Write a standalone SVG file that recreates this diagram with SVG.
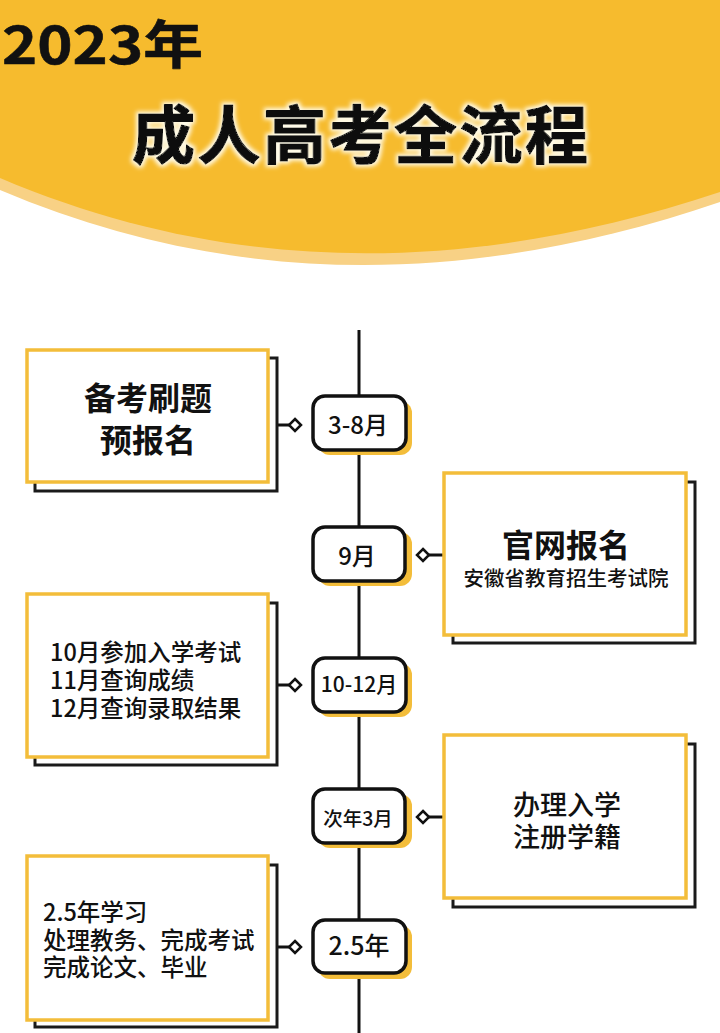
<svg xmlns="http://www.w3.org/2000/svg" width="720" height="1033" viewBox="0 0 720 1033">
<style>
.cjk{font-family:"Noto Sans CJK SC","Noto Sans",sans-serif;fill:#111;}
.box{fill:#fff;stroke:#F3BD3A;stroke-width:3.5;}
.shadow{fill:none;stroke:#1a1a1a;stroke-width:3;}
.pill{fill:#fff;stroke:#111;stroke-width:3.5;}
.pillsh{fill:#F3BD3A;}
.conn{stroke:#111;stroke-width:3;fill:none;}
.dia{fill:#fff;stroke:#111;stroke-width:2.5;}
.big{font-size:32px;font-weight:700;text-anchor:middle;}
.mid{font-size:23.5px;font-weight:500;}
.ptxt{font-weight:500;text-anchor:middle;}
</style>
<defs>
<filter id="glow" x="-10%" y="-40%" width="120%" height="180%">
<feMorphology in="SourceAlpha" operator="dilate" radius="1.5" result="d"/>
<feGaussianBlur in="d" stdDeviation="2.2" result="b"/>
<feFlood flood-color="#fffbe8" flood-opacity="1"/>
<feComposite in2="b" operator="in" result="w"/>
<feMerge><feMergeNode in="w"/><feMergeNode in="SourceGraphic"/></feMerge>
</filter>
</defs>
<rect width="720" height="1033" fill="#fff"/>
<g id="header">
<path d="M0,0 H720 V202 C480,284 240,292 0,190 Z" fill="#F8D185"/>
<path d="M0,0 H720 V192 C480,272 240,280 0,178 Z" fill="#F6BB2E"/>
<text class="cjk" x="2" y="64" font-size="52" font-weight="700" textLength="201" lengthAdjust="spacingAndGlyphs" stroke="#111" stroke-width="0.6" stroke-linejoin="round">2023年</text>
<text class="cjk" x="132" y="158" font-size="63" font-weight="700" textLength="456" lengthAdjust="spacing" stroke="#111" stroke-width="1.2" stroke-linejoin="round" filter="url(#glow)">成人高考全流程</text>
</g>
<g id="connectors">
<line class="conn" x1="359" y1="330" x2="359" y2="1033"/>
<line class="conn" x1="277" y1="425" x2="290" y2="425"/>
<line class="conn" x1="429" y1="555" x2="444" y2="555"/>
<line class="conn" x1="277" y1="685" x2="290" y2="685"/>
<line class="conn" x1="429" y1="817" x2="444" y2="817"/>
<line class="conn" x1="277" y1="947" x2="290" y2="947"/>
<path class="dia" d="M295,419 L301,425 L295,431 L289,425 Z"/>
<path class="dia" d="M423,549 L429,555 L423,561 L417,555 Z"/>
<path class="dia" d="M295,679 L301,685 L295,691 L289,685 Z"/>
<path class="dia" d="M423,811 L429,817 L423,823 L417,817 Z"/>
<path class="dia" d="M295,941 L301,947 L295,953 L289,947 Z"/>
</g>
<g id="box1">
<rect class="shadow" x="35" y="358" width="242" height="133"/>
<rect class="box" x="27" y="350" width="241" height="132"/>
<text class="cjk big"><tspan x="148" y="410">备考刷题</tspan><tspan x="148" y="452">预报名</tspan></text>
</g>
<g id="box2">
<rect class="shadow" x="453" y="482" width="242" height="161"/>
<rect class="box" x="444" y="473" width="242" height="162"/>
<text class="cjk" text-anchor="middle"><tspan x="566" y="557" font-size="32" font-weight="700">官网报名</tspan><tspan x="566" y="586" font-size="20.5" font-weight="500">安徽省教育招生考试院</tspan></text>
</g>
<g id="box3">
<rect class="shadow" x="35" y="603" width="242" height="162"/>
<rect class="box" x="27" y="594" width="241" height="163"/>
<text class="cjk mid"><tspan x="50" y="661">10月参加入学考试</tspan><tspan x="50" y="689">11月查询成绩</tspan><tspan x="50" y="717">12月查询录取结果</tspan></text>
</g>
<g id="box4">
<rect class="shadow" x="453" y="744" width="242" height="163"/>
<rect class="box" x="444" y="735" width="242" height="163"/>
<text class="cjk" font-size="27" font-weight="500" text-anchor="middle"><tspan x="567" y="815">办理入学</tspan><tspan x="567" y="847">注册学籍</tspan></text>
</g>
<g id="box5">
<rect class="shadow" x="35" y="865" width="242" height="162"/>
<rect class="box" x="27" y="856" width="241" height="164"/>
<text class="cjk mid"><tspan x="43" y="921">2.5年学习</tspan><tspan x="43" y="949">处理教务、完成考试</tspan><tspan x="43" y="976">完成论文、毕业</tspan></text>
</g>
<g id="pill1">
<rect class="pillsh" x="318" y="401" width="94" height="54" rx="12"/>
<rect class="pill" x="313" y="396" width="93" height="54" rx="12"/>
<text class="cjk ptxt" x="358" y="434" font-size="24">3-8月</text>
</g>
<g id="pill2">
<rect class="pillsh" x="318" y="532" width="94" height="54" rx="12"/>
<rect class="pill" x="313" y="527" width="92" height="54" rx="12"/>
<text class="cjk ptxt" x="357" y="565" font-size="24">9月</text>
</g>
<g id="pill3">
<rect class="pillsh" x="318" y="663" width="94" height="54" rx="12"/>
<rect class="pill" x="313" y="658" width="93" height="54" rx="12"/>
<text class="cjk ptxt" x="359" y="692" font-size="21">10-12月</text>
</g>
<g id="pill4">
<rect class="pillsh" x="318" y="794" width="94" height="54" rx="12"/>
<rect class="pill" x="313" y="789" width="92" height="54" rx="12"/>
<text class="cjk ptxt" x="358" y="826" font-size="19.5">次年3月</text>
</g>
<g id="pill5">
<rect class="pillsh" x="318" y="925" width="94" height="54" rx="12"/>
<rect class="pill" x="313" y="920" width="93" height="53" rx="12"/>
<text class="cjk ptxt" x="359" y="955" font-size="25">2.5年</text>
</g>
</svg>
